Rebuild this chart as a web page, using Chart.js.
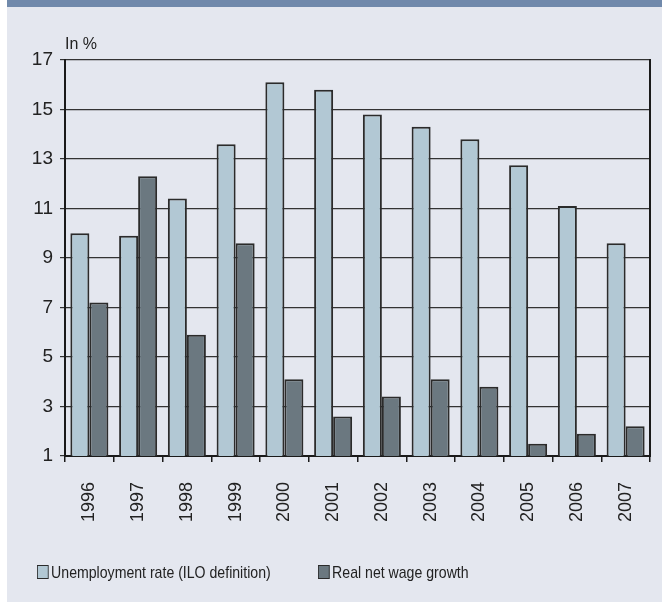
<!DOCTYPE html>
<html>
<head>
<meta charset="utf-8">
<script src="https://cdn.jsdelivr.net/npm/chart.js@4/dist/chart.umd.min.js"></script>
<style>
  body { margin:0; background:#fff; }
  #wrap { position:relative; width:662px; height:602px; overflow:hidden; }
  #bg { position:absolute; left:7px; top:0; width:655px; height:602px; background:#e4e7ef; }
  #band { position:absolute; left:7px; top:0; width:655px; height:7px; background:#7089ab; }
  #unit { position:absolute; left:65px; top:35px; font:16px "Liberation Sans", Arial, sans-serif; color:#222; }
  #chart { position:absolute; left:0; top:0; }
  .leg { position:absolute; top:563px; font:17px "Liberation Sans", Arial, sans-serif; color:#222; white-space:nowrap; transform:scaleX(0.83); transform-origin:left center; }
  .leg i { display:inline-block; width:12px; height:12px; border:1.5px solid #2b2b2b; vertical-align:-1px; margin-right:3px; }
</style>
</head>
<body>
<div id="wrap">
  <div id="bg"></div>
  <div id="band"></div>
  <canvas id="chart" width="662" height="602"></canvas>
  <div id="unit">In %</div>
  <div class="leg" style="left:37px"><i style="background:#b2c8d4"></i>Unemployment rate (ILO definition)</div>
  <div class="leg" style="left:318px"><i style="background:#6b7880"></i>Real net wage growth</div>
</div>
<script>
const anos = ['1996','1997','1998','1999','2000','2001','2002','2003','2004','2005','2006','2007'];
const desemprego = [10.0, 9.9, 11.4, 13.6, 16.1, 15.8, 14.8, 14.3, 13.8, 12.75, 11.1, 9.6];
const salarioReal = [7.2, 12.3, 5.9, 9.6, 4.1, 2.6, 3.4, 4.1, 3.8, 1.5, 1.9, 2.2];
const ticksY = [1, 3, 5, 7, 9, 11, 13, 15, 17];

// right border of the plot
const bordaDireita = {
    id: 'bordaDireita',
    afterDraw(chart) {
        const a = chart.chartArea, c = chart.ctx;
        c.save();
        c.strokeStyle = '#1a1a1a';
        c.lineWidth = 2;
        c.beginPath();
        c.moveTo(a.right, a.top - 1);
        c.lineTo(a.right, a.bottom + 1);
        c.stroke();
        c.restore();
    }
};

new Chart(document.getElementById('chart').getContext('2d'), {
    type: 'bar',
    data: {
        labels: anos,
        datasets: [
            { label: 'Unemployment rate (ILO definition)', data: desemprego, backgroundColor: '#b2c8d4', borderColor: '#2b2b2b', borderWidth: 2 },
            { label: 'Real net wage growth', data: salarioReal, backgroundColor: '#6b7880', borderColor: '#2b2b2b', borderWidth: 2 }
        ]
    },
    options: {
        responsive: false,
        animation: false,
        layout: { padding: { top: 60, right: 12, bottom: 0, left: 0 } },
        plugins: { legend: { display: false }, tooltip: { enabled: false } },
        datasets: { bar: { categoryPercentage: 0.78, barPercentage: 1 } },
        scales: {
            x: {
                afterFit: s => { s.height = 146; s.paddingLeft = 0; s.paddingRight = 0; },
                grid: { offset: true, drawOnChartArea: false, drawTicks: true, tickLength: 6, color: '#1a1a1a', lineWidth: 1.5 },
                border: { color: '#1a1a1a', width: 2 },
                ticks: { minRotation: 90, maxRotation: 90, padding: 20, color: '#222', font: { family: 'Liberation Sans', size: 18 } }
            },
            y: {
                min: 1, max: 17,
                afterFit: s => { s.width = 65; s.paddingTop = 0; s.paddingBottom = 0; },
                afterBuildTicks: s => { s.ticks = ticksY.map(v => ({ value: v })); },
                grid: { color: '#333', lineWidth: 1.2, drawTicks: true, tickLength: 5 },
                border: { color: '#1a1a1a', width: 2 },
                ticks: { padding: 7, color: '#222', font: { family: 'Liberation Sans', size: 19 } }
            }
        }
    },
    plugins: [bordaDireita]
});
</script>
</body>
</html>
